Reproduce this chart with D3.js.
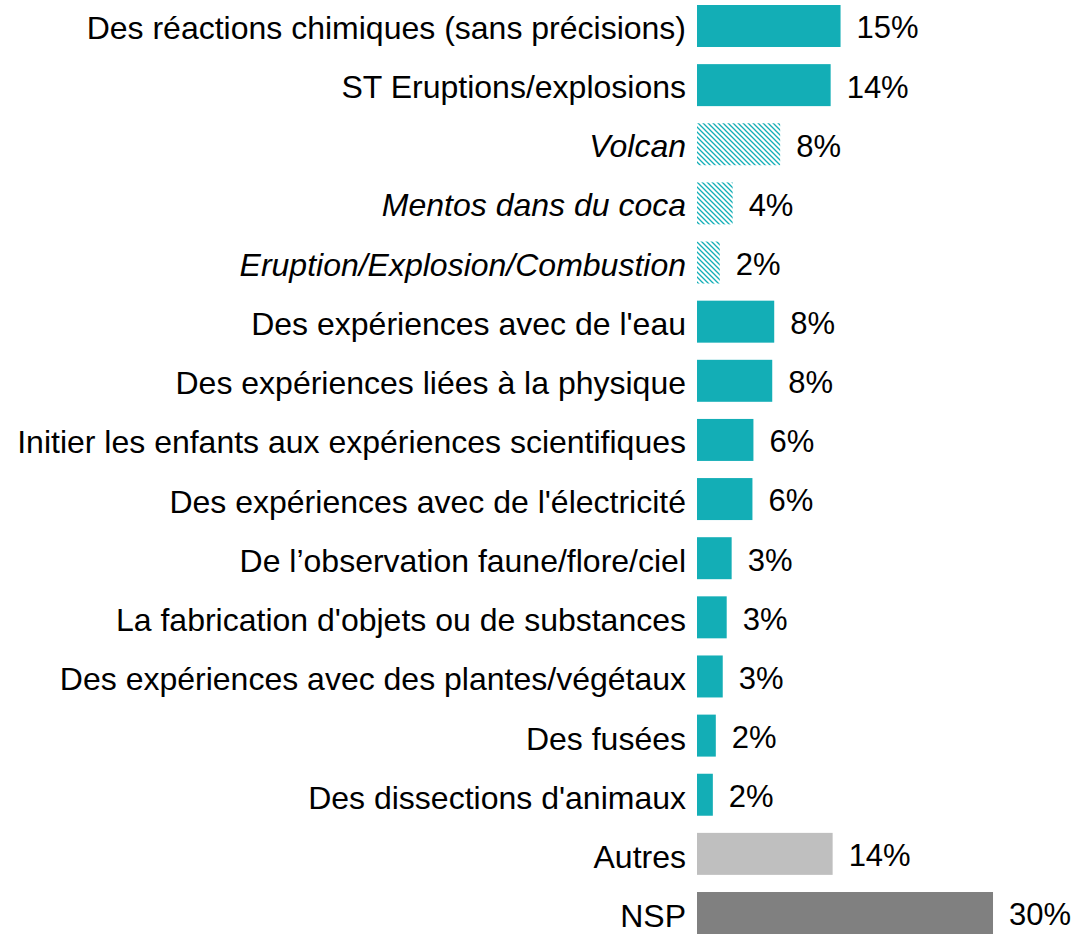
<!DOCTYPE html>
<html>
<head>
<meta charset="utf-8">
<script src="https://cdn.jsdelivr.net/npm/d3@7"></script>
<style>
  body { margin: 0; background: #fff; }
  text { font-family: "Liberation Sans", Arial, sans-serif; fill: #000; }
</style>
</head>
<body>
<svg width="1076" height="934"></svg>
<script>
// categories, top to bottom
var categories = [
  "Des réactions chimiques (sans précisions)",
  "ST Eruptions/explosions",
  "Volcan",
  "Mentos dans du coca",
  "Eruption/Explosion/Combustion",
  "Des expériences avec de l'eau",
  "Des expériences liées à la physique",
  "Initier les enfants aux expériences scientifiques",
  "Des expériences avec de l'électricité",
  "De l’observation faune/flore/ciel",
  "La fabrication d'objets ou de substances",
  "Des expériences avec des plantes/végétaux",
  "Des fusées",
  "Des dissections d'animaux",
  "Autres",
  "NSP"
];
// values in %
var values = [14.5, 13.5, 8.4, 3.6, 2.3, 7.8, 7.6, 5.7, 5.6, 3.5, 3.0, 2.6, 1.9, 1.6, 13.7, 29.9];
var valueLabels = ["15%", "14%", "8%", "4%", "2%", "8%", "8%", "6%", "6%", "3%", "3%", "3%", "2%", "2%", "14%", "30%"];
// bar kind: main, sub (hatched sub-item), other, nsp
var kinds = ["main", "main", "sub", "sub", "sub", "main", "main", "main", "main", "main", "main", "main", "main", "main", "other", "nsp"];

var teal = "#13aeb6";
var fills = { main: teal, sub: "url(#hatch)", other: "#bfbfbf", nsp: "#808080" };

var svg = d3.select("svg");

// hatch pattern for sub-items
var pat = svg.append("defs").append("pattern")
  .attr("id", "hatch")
  .attr("patternUnits", "userSpaceOnUse")
  .attr("width", 5).attr("height", 5);
pat.append("rect").attr("width", 5).attr("height", 5).attr("fill", "#fff");
pat.append("path")
  .attr("d", "M-1,-1 L6,6 M-1,4 L1,6 M4,-1 L6,1")
  .attr("stroke", teal)
  .attr("stroke-width", 1.3);

var x = d3.scaleLinear().domain([0, 30]).range([697, 994]);
var y = d3.scaleBand().domain(categories).range([5, 934]).paddingInner(0.29).paddingOuter(0);
// category text sits on a slightly longer band than the bars
var yl = d3.scaleBand().domain(categories).range([6, 937]).paddingInner(0.29).paddingOuter(0);

var rows = svg.append("g").selectAll("g")
  .data(categories)
  .enter().append("g");

rows.append("rect")
  .attr("x", x(0))
  .attr("y", function(d) { return y(d); })
  .attr("width", function(d, i) { return x(values[i]) - x(0); })
  .attr("height", y.bandwidth())
  .attr("fill", function(d, i) { return fills[kinds[i]]; });

// category labels
rows.append("text")
  .attr("x", 686)
  .attr("y", function(d) { return yl(d) + yl.bandwidth() / 2; })
  .attr("dy", "0.36em")
  .attr("text-anchor", "end")
  .style("font-size", "32px")
  .style("font-style", function(d, i) { return kinds[i] == "sub" ? "italic" : "normal"; })
  .text(function(d) { return d; });

// value labels
rows.append("text")
  .attr("x", function(d, i) { return x(values[i]) + 16; })
  .attr("y", function(d) { return y(d) + y.bandwidth() / 2; })
  .attr("dy", "0.4em")
  .style("font-size", "31px")
  .text(function(d, i) { return valueLabels[i]; });
</script>
</body>
</html>
